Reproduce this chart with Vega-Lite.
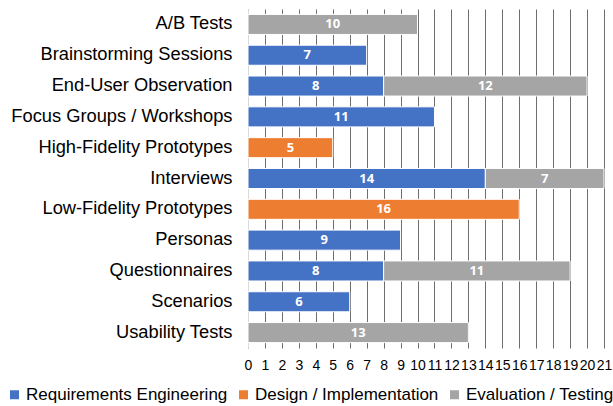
{
  "$schema": "https://vega.github.io/schema/vega-lite/v6.json",
  "width": 356,
  "height": 339,
  "autosize": "none",
  "padding": {"left": 248, "top": 9, "right": 9, "bottom": 58},
  "background": "white",
  "config": {"view": {"stroke": null}, "font": "Liberation Sans"},
  "data": {
    "values": [
      {"method": "A/B Tests", "phase": "Evaluation / Testing", "v": 10},
      {"method": "Brainstorming Sessions", "phase": "Requirements Engineering", "v": 7},
      {"method": "End-User Observation", "phase": "Requirements Engineering", "v": 8},
      {"method": "End-User Observation", "phase": "Evaluation / Testing", "v": 12},
      {"method": "Focus Groups / Workshops", "phase": "Requirements Engineering", "v": 11},
      {"method": "High-Fidelity Prototypes", "phase": "Design / Implementation", "v": 5},
      {"method": "Interviews", "phase": "Requirements Engineering", "v": 14},
      {"method": "Interviews", "phase": "Evaluation / Testing", "v": 7},
      {"method": "Low-Fidelity Prototypes", "phase": "Design / Implementation", "v": 16},
      {"method": "Personas", "phase": "Requirements Engineering", "v": 9},
      {"method": "Questionnaires", "phase": "Requirements Engineering", "v": 8},
      {"method": "Questionnaires", "phase": "Evaluation / Testing", "v": 11},
      {"method": "Scenarios", "phase": "Requirements Engineering", "v": 6},
      {"method": "Usability Tests", "phase": "Evaluation / Testing", "v": 13}
    ]
  },
  "transform": [
    {"calculate": "indexof(['Requirements Engineering','Design / Implementation','Evaluation / Testing'], datum.phase)", "as": "o"},
    {"stack": "v", "groupby": ["method"], "sort": [{"field": "o", "order": "ascending"}], "as": ["x0", "x1"]},
    {"calculate": "(datum.x0 + datum.x1) / 2", "as": "xm"}
  ],
  "encoding": {
    "y": {
      "field": "method",
      "type": "nominal",
      "sort": ["A/B Tests", "Brainstorming Sessions", "End-User Observation", "Focus Groups / Workshops", "High-Fidelity Prototypes", "Interviews", "Low-Fidelity Prototypes", "Personas", "Questionnaires", "Scenarios", "Usability Tests"],
      "scale": {"paddingInner": 0.35, "paddingOuter": 0.175},
      "axis": {
        "title": null,
        "ticks": false,
        "labelPadding": 16,
        "labelFontSize": 18.3,
        "labelLimit": 400,
        "labelColor": "#000000",
        "labelFont": "Liberation Sans",
        "domainColor": "#d9d9d9",
        "domainWidth": 1,
        "grid": false
      }
    }
  },
  "layer": [
    {
      "mark": {"type": "bar", "stroke": "white", "strokeWidth": 1},
      "encoding": {
        "x": {
          "field": "x0",
          "type": "quantitative",
          "scale": {"domain": [0, 21], "nice": false},
          "axis": {
            "title": null,
            "values": [0,1,2,3,4,5,6,7,8,9,10,11,12,13,14,15,16,17,18,19,20,21],
            "ticks": false,
            "domain": false,
            "labelPadding": 10,
            "labelFontSize": 14,
            "labelColor": "#000000",
            "labelFont": "Liberation Sans",
            "labelFlush": false,
            "labelOverlap": false,
            "grid": true,
            "gridColor": "#6e6e6e",
            "gridWidth": 1
          }
        },
        "x2": {"field": "x1"},
        "color": {
          "field": "phase",
          "type": "nominal",
          "scale": {
            "domain": ["Requirements Engineering", "Design / Implementation", "Evaluation / Testing"],
            "range": ["#4472C4", "#ED7D31", "#A5A5A5"]
          },
          "legend": {
            "title": null,
            "orient": "none",
            "direction": "horizontal",
            "legendX": -242,
            "legendY": 377,
            "symbolType": "square",
            "symbolSize": 81,
            "symbolStrokeWidth": 0,
            "labelFontSize": 17,
            "labelLimit": 400,
            "labelFont": "Liberation Sans",
            "labelColor": "#000000",
            "labelOffset": 3,
            "columnPadding": 7,
            "padding": 0
          }
        }
      }
    },
    {
      "mark": {"type": "text", "color": "white", "font": "Open Sans", "fontWeight": "bold", "fontSize": 13, "align": "center", "baseline": "middle"},
      "encoding": {
        "x": {
          "field": "xm",
          "type": "quantitative",
          "scale": {"domain": [0, 21], "nice": false},
          "axis": {
            "title": null,
            "values": [0,1,2,3,4,5,6,7,8,9,10,11,12,13,14,15,16,17,18,19,20,21],
            "ticks": false,
            "domain": false,
            "labelPadding": 10,
            "labelFontSize": 14,
            "labelColor": "#000000",
            "labelFont": "Liberation Sans",
            "labelFlush": false,
            "labelOverlap": false,
            "grid": true,
            "gridColor": "#6e6e6e",
            "gridWidth": 1
          }
        },
        "text": {"field": "v", "type": "quantitative"}
      }
    }
  ]
}
